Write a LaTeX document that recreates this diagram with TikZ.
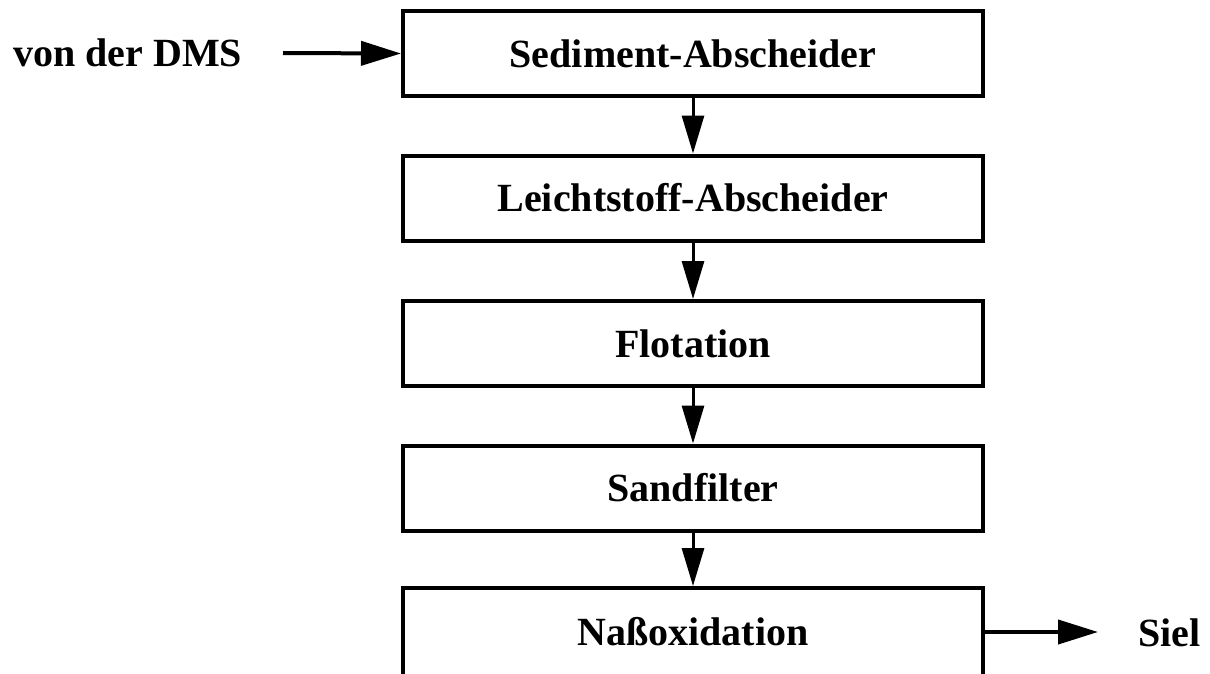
\documentclass[tikz,border=0pt]{standalone}
\usepackage{fontspec}
\setmainfont{Liberation Serif}
\usetikzlibrary{arrows.meta}
\begin{document}
\begin{tikzpicture}[x=1pt,y=-1pt,
  stage/.style={draw, line width=4pt, minimum width=580pt, minimum height=85pt, inner sep=0pt,
    font=\fontsize{40}{48}\selectfont\bfseries},
  lbl/.style={font=\fontsize{40}{48}\selectfont\bfseries, inner sep=0pt},
  flow/.style={line width=3pt, -{Triangle[length=38pt,width=22pt]}},
  sideflow/.style={line width=4pt, -{Triangle[length=40pt,width=24pt]}}]
\useasboundingbox (0,0) rectangle (1210,673);
\clip (0,0) rectangle (1210,673);
\node[stage] (s1) at (693,53.5) {Sediment-Abscheider};
\node[stage] (s2) at (693,198) {Leichtstoff-Abscheider};
\node[stage] (s3) at (693,343.5) {Flotation};
\node[stage] (s4) at (693,488) {Sandfilter};
\node[stage, minimum height=88pt] (s5) at (693,632) {Naßoxidation};
\node[lbl, anchor=west] (in) at (13,53) {von der DMS};
\node[lbl, anchor=west] (out) at (1138,633) {Siel};
\coordinate (inStart) at (283,53);
\coordinate (outEnd) at (1098,632);
\draw[sideflow] (inStart) -- (s1.west);
\draw[flow] (s1.south) -- (s2.north);
\draw[flow] (s2.south) -- (s3.north);
\draw[flow] (s3.south) -- (s4.north);
\draw[flow] (s4.south) -- (s5.north);
\draw[sideflow] (s5.east) -- (outEnd);
\end{tikzpicture}
\end{document}
